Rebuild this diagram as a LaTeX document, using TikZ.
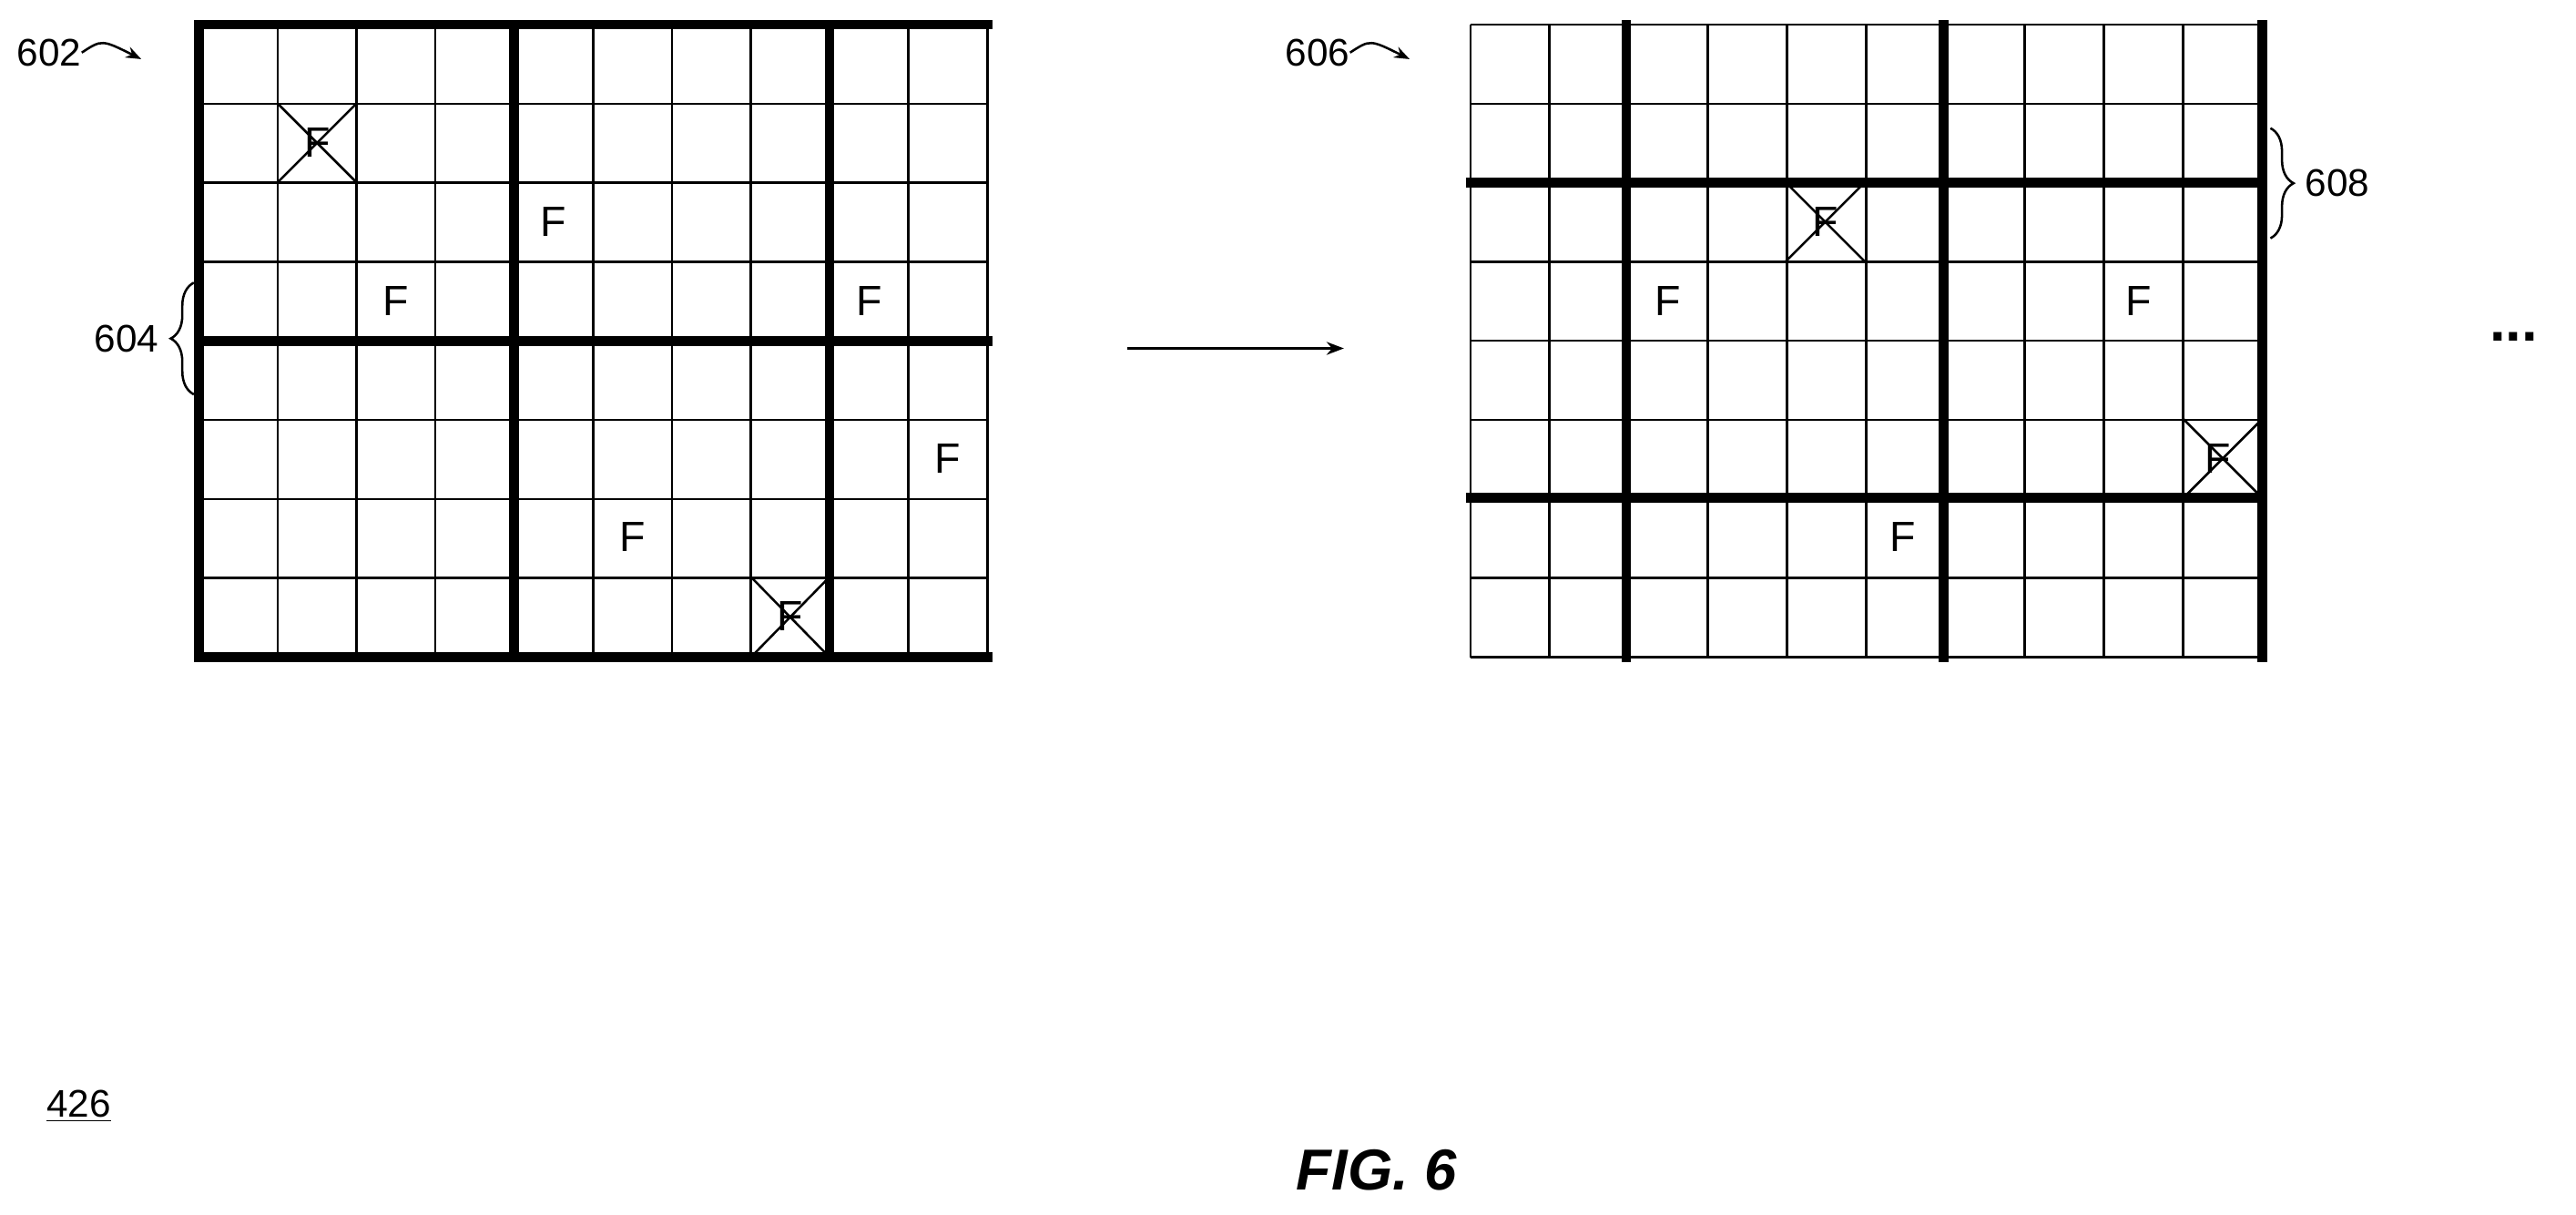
\documentclass[tikz,border=0pt]{standalone}
\usepackage{fontspec}
\setmainfont{Liberation Sans}
\usetikzlibrary{positioning, calc, decorations.pathreplacing, arrows.meta}
\tikzset{zelle/.style={line width=1.2pt},
	balken/.style={line width=5pt, line cap=rect},
	buchstabe/.style={inner sep=0, font=\fontsize{22}{26}\selectfont},
	marke/.style={inner sep=0, font=\fontsize{20}{24}\selectfont},
	klammer/.style={decorate, decoration={brace, amplitude=12pt}, line width=1.2pt},
	kreuz/.style={line width=1.2pt}}
\begin{document}
\begin{tikzpicture}[x=0.3mm, y=-0.3mm]
  \useasboundingbox (0,0) rectangle (1568,739);

  % linkes Gitter
  \begin{scope}[shift={(121,15)}]
    \foreach \i in {0,...,10} \draw[zelle] (\i*48,0) -- (\i*48,385);
    \foreach \j in {0,...,8} \draw[zelle] (0,\j*48.1) -- (480,\j*48.1);
    \draw[balken] (480,0) -- (0,0) -- (0,385) -- (480,385);
    \draw[balken] (192,0) -- (192,385);
    \draw[balken] (384,0) -- (384,385);
    \draw[balken] (0,192.5) -- (480,192.5);
    \node (la) [buchstabe] at (72,72) {F};
    \node (lb) [buchstabe] at (216,120) {F};
    \node (lc) [buchstabe] at (120,168) {F};
    \node (ld) [buchstabe] at (408,168) {F};
    \node (le) [buchstabe] at (456,264) {F};
    \node (lf) [buchstabe] at (264,312) {F};
    \node (lg) [buchstabe] at (360,360) {F};
    \draw[kreuz] (48,48) -- (96,96) (96,48) -- (48,96);
    \draw[kreuz] (336,336) -- (384,385) (384,336) -- (336,385);
  \end{scope}

  % rechtes Gitter
  \begin{scope}[shift={(895,15)}]
    \foreach \i in {0,...,10} \draw[zelle] (\i*48.2,0) -- (\i*48.2,385);
    \foreach \j in {0,...,8} \draw[zelle] (0,\j*48.1) -- (482,\j*48.1);
    \draw[balken] (95,0) -- (95,385);
    \draw[balken] (288,0) -- (288,385);
    \draw[balken] (482,0) -- (482,385);
    \draw[balken] (0,96) -- (482,96);
    \draw[balken] (0,288) -- (482,288);
    \node (ra) [buchstabe] at (216,120) {F};
    \node (rb) [buchstabe] at (120,168) {F};
    \node (rc) [buchstabe] at (407,168) {F};
    \node (rd) [buchstabe] at (455,264) {F};
    \node (re) [buchstabe] at (263,312) {F};
    \draw[kreuz] (192,96) -- (240,144) (240,96) -- (192,144);
    \draw[kreuz] (434,240) -- (482,288) (482,240) -- (434,288);
  \end{scope}

  % Bezugszeichen
  \node (n602) [marke] at (30,32) {602};
  \coordinate (p602) at (86,36);
  \draw[line width=1.2pt, -{Stealth[length=8pt]}] (n602.east) .. controls (62,24) .. (p602);
  \node (n606) [marke] at (802,32) {606};
  \coordinate (p606) at (858,36);
  \draw[line width=1.2pt, -{Stealth[length=8pt]}] (n606.east) .. controls (834,24) .. (p606);

  \coordinate (k1) at (118,240);
  \coordinate (k2) at (118,172);
  \draw[klammer] (k1) -- (k2);
  \node (n604) [marke, left=18pt of $(k1)!0.5!(k2)$] {604};
  \coordinate (k3) at (1382,78);
  \coordinate (k4) at (1382,145);
  \draw[klammer] (k3) -- (k4);
  \node (n608) [marke, right=18pt of $(k3)!0.5!(k4)$] {608};

  % Pfeil
  \coordinate (a1) at (686,212);
  \coordinate (a2) at (818,212);
  \draw[line width=1.2pt, -{Stealth[length=9pt]}] (a1) -- (a2);
  \node (dots) [inner sep=0, font=\fontsize{30}{30}\selectfont\bfseries] at (1530,205) {...};

  \node (n426) [marke] at (48,673) {\underline{426}};
  \node (fig) [inner sep=0, font=\fontsize{30}{34}\selectfont\bfseries\itshape] at (838,712) {FIG. 6};
\end{tikzpicture}
\end{document}
